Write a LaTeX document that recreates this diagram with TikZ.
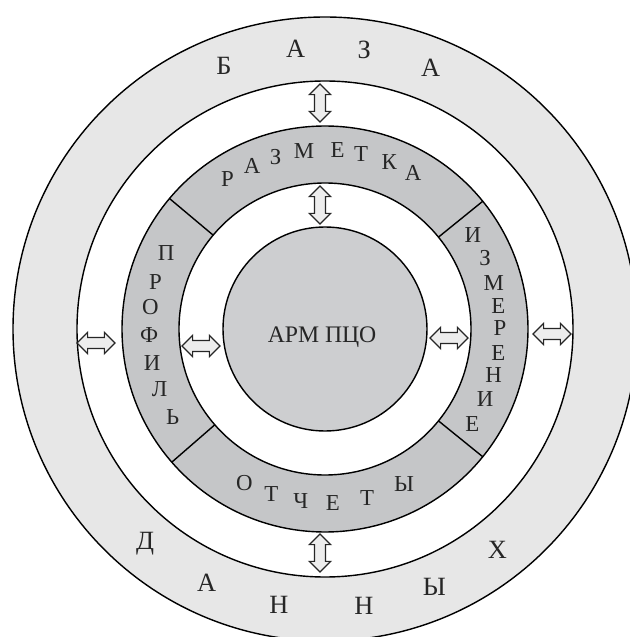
\documentclass[tikz,border=0pt]{standalone}
\usepackage{fontspec}
\setmainfont{Liberation Serif}
\usetikzlibrary{shapes.arrows,calc}
\definecolor{baseband}{HTML}{E7E7E7}
\definecolor{moduleband}{HTML}{C5C6C8}
\definecolor{armfill}{HTML}{CDCED0}
\definecolor{arrowfill}{HTML}{EDEDED}
\definecolor{inkgray}{HTML}{262626}
\begin{document}
\begin{tikzpicture}[x=0.02cm, y=0.02cm, line width=0.8pt,
  outerletter/.style={font=\fontsize{15}{15}\selectfont, text=inkgray, inner sep=0pt},
  ringletter/.style={font=\fontsize{13}{13}\selectfont, text=inkgray, inner sep=0pt},
  link/.style={double arrow, draw=inkgray, fill=arrowfill, line width=0.7pt,
    inner xsep=0pt, inner ysep=0.1cm, minimum width=0pt, minimum height=0.76cm,
    double arrow head extend=0.1cm}]
  \useasboundingbox (0,0) rectangle (630,637);
  \clip (0,0) rectangle (630,637);
  \coordinate (c) at (325,308);
  % rings, from outside in
  \fill[baseband] (c) circle[radius=312];
  \draw (c) circle[radius=312];
  \fill[white] (c) circle[radius=248];
  \draw (c) circle[radius=248];
  \fill[moduleband] (c) circle[radius=203];
  \draw (c) circle[radius=203];
  \fill[white] (c) circle[radius=146];
  \draw (c) circle[radius=146];
  \fill[armfill] (c) circle[radius=102];
  \draw (c) circle[radius=102];
  % module separators
  \foreach \a in {39,140,221,321}
    \draw ($(c)+(\a:146)$) -- ($(c)+(\a:203)$);
  \node[font=\fontsize{13.5}{13.5}\selectfont, text=inkgray] (arm) at (322,300) {АРМ ПЦО};
  % database letters
  \foreach \a/\l [count=\i] in {111/Б,96/А,82/З,68/А}
    \node[outerletter] (baza\i) at ($(c)+(\a:282)$) {\l};
  \foreach \a/\l [count=\i] in {230/Д,245/А,260.5/Н,278/Н,293/Ы,308/Х}
    \node[outerletter] (dannyh\i) at ($(c)+(\a:280)$) {\l};
  % module letters
  \foreach \a/\l [count=\i] in {123/Р,114/А,106/З,96.7/М,86/Е,78.4/Т,69/К,60.5/А}
    \node[ringletter] (razm\i) at ($(c)+(\a:179)$) {\l};
  \foreach \a/\l [count=\i] in {154.6/П,164.5/Р,173/О,182/Ф,191/И,200/Л,210/Ь}
    \node[ringletter] (prof\i) at ($(c)+(\a:176)$) {\l};
  \foreach \a/\l [count=\i] in {32.4/И,23.8/З,15.4/М,7.6/Е,0.4/Р,-7.9/Е,-15.4/Н,-23.7/И,-32.7/Е}
    \node[ringletter] (izm\i) at ($(c)+(\a:175)$) {\l};
  \foreach \a/\l [count=\i] in {242.4/О,252/Т,262/Ч,272.6/Е,284/Т,297/Ы}
    \node[ringletter] (otch\i) at ($(c)+(\a:174)$) {\l};
  % exchange arrows
  \node[link, rotate=90] (topout) at (320,534) {};
  \node[link, rotate=90] (topin) at (320,432) {};
  \node[link, rotate=90] (botout) at (320,84) {};
  \node[link] (leftout) at (96,294) {};
  \node[link] (leftin) at (201,291) {};
  \node[link] (rightin) at (449,299) {};
  \node[link] (rightout) at (552,303) {};
\end{tikzpicture}
\end{document}
